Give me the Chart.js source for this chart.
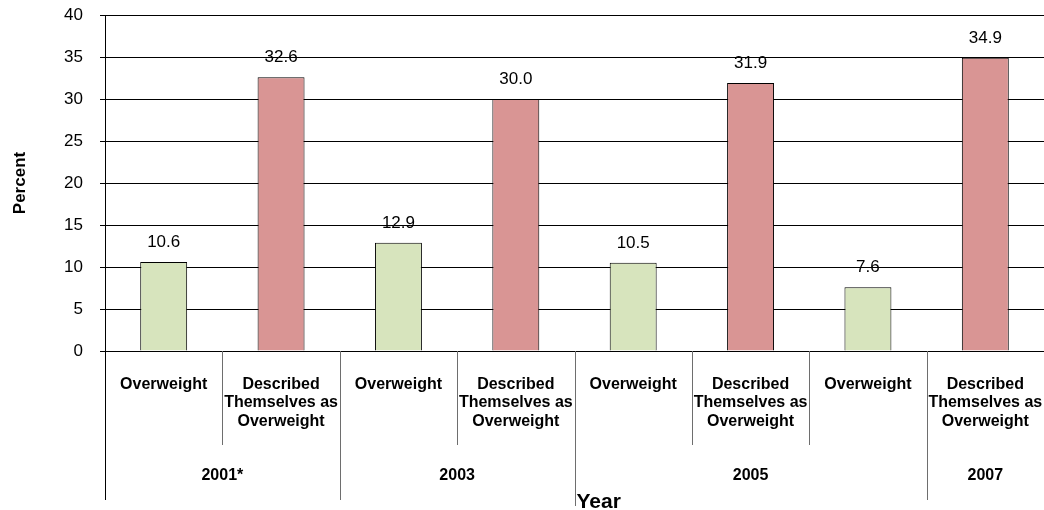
<!DOCTYPE html>
<html>
<head>
<meta charset="utf-8">
<script src="https://cdn.jsdelivr.net/npm/chart.js@4"></script>
<style>
  html, body { margin: 0; padding: 0; background: #fff; }
  .chart-wrapper { width: 1044px; height: 510px; position: relative; }
</style>
</head>
<body>
<div class="chart-wrapper"><canvas id="weightChart"></canvas></div>
<script>
// 数据
const years = ['2001*', '2003', '2005', '2007'];
const yearSpans = [2, 2, 3, 1];          // how many columns each year covers
const groupLabels = [
  'Overweight', ['Described', 'Themselves as', 'Overweight'],
  'Overweight', ['Described', 'Themselves as', 'Overweight'],
  'Overweight', ['Described', 'Themselves as', 'Overweight'],
  'Overweight', ['Described', 'Themselves as', 'Overweight']
];
const values = [10.6, 32.6, 12.9, 30.0, 10.5, 31.9, 7.6, 34.9];
const yTicks = [0, 5, 10, 15, 20, 25, 30, 35, 40];

const greenFill = '#d7e4bd';
const redFill = '#d99594';

Chart.defaults.font.family = 'Arial, "Liberation Sans", sans-serif';
Chart.defaults.color = '#000';

// 柱顶数值
const barValueLabels = {
  id: 'barValueLabels',
  afterDatasetsDraw(chart) {
    const ctx = chart.ctx;
    const meta = chart.getDatasetMeta(0);
    ctx.save();
    ctx.font = '17px Arial, "Liberation Sans", sans-serif';
    ctx.fillStyle = '#000';
    ctx.textAlign = 'center';
    ctx.textBaseline = 'alphabetic';
    meta.data.forEach((bar, i) => {
      ctx.fillText(values[i].toFixed(1), bar.x, bar.y - 15);
    });
    ctx.restore();
  }
};

// 年份行和分隔线
const yearRow = {
  id: 'yearRow',
  afterDraw(chart) {
    const ctx = chart.ctx;
    const x = chart.scales.x;
    const area = chart.chartArea;
    const step = x.getPixelForValue(1) - x.getPixelForValue(0);
    const edge = i => x.getPixelForValue(i) - step / 2;

    ctx.save();
    ctx.lineWidth = 1;

    // left axis runs down through the label rows
    ctx.strokeStyle = '#000';
    ctx.beginPath();
    ctx.moveTo(Math.round(area.left) + 0.5, area.bottom);
    ctx.lineTo(Math.round(area.left) + 0.5, 500);
    ctx.stroke();

    // boundaries between columns
    const yearEdges = [];
    let acc = 0;
    yearSpans.forEach(s => { acc += s; yearEdges.push(acc); });
    ctx.strokeStyle = '#6e6e6e';
    for (let i = 1; i < groupLabels.length; i++) {
      const px = Math.round(edge(i)) + 0.5;
      const isYear = yearEdges.includes(i);
      ctx.beginPath();
      ctx.moveTo(px, area.bottom);
      ctx.lineTo(px, isYear ? (i === 4 ? 506 : 500) : 445);
      ctx.stroke();
    }

    // year labels
    ctx.fillStyle = '#000';
    ctx.font = 'bold 16px Arial, "Liberation Sans", sans-serif';
    ctx.textAlign = 'center';
    ctx.textBaseline = 'middle';
    let start = 0;
    years.forEach((yr, k) => {
      const end = start + yearSpans[k];
      const cx = (edge(start) + edge(end)) / 2;
      ctx.fillText(yr, cx, 476);
      start = end;
    });

    // axis title
    ctx.font = 'bold 21px Arial, "Liberation Sans", sans-serif';
    ctx.textAlign = 'left';
    ctx.textBaseline = 'alphabetic';
    ctx.fillText('Year', edge(4) + 2, 508);
    ctx.restore();
  }
};

// 去掉刻度标签带来的额外留白
function noScalePadding(scale) {
  scale.paddingLeft = 0;
  scale.paddingRight = 0;
  scale.paddingTop = 0;
  scale.paddingBottom = 0;
}

new Chart(document.getElementById('weightChart'), {
  type: 'bar',
  data: {
    labels: groupLabels,
    datasets: [{
      data: values,
      backgroundColor: values.map((v, i) => i % 2 === 0 ? greenFill : redFill),
      borderColor: '#000',
      borderWidth: 1,
      barPercentage: 0.4,
      categoryPercentage: 1
    }]
  },
  options: {
    responsive: true,
    maintainAspectRatio: false,
    animation: false,
    layout: { padding: { top: 15, right: 0, bottom: 0, left: 0 } },
    plugins: {
      legend: { display: false },
      tooltip: { enabled: false }
    },
    scales: {
      x: {
        offset: true,
        afterFit: scale => { scale.height = 159; noScalePadding(scale); },
        grid: { display: false, drawTicks: false },
        border: { display: true, color: '#000', width: 1 },
        ticks: {
          maxRotation: 0,
          autoSkip: false,
          padding: 24,
          font: { size: 16, weight: 'bold', lineHeight: 1.17 }
        }
      },
      y: {
        min: 0,
        max: 40,
        afterFit: scale => { scale.width = 105; noScalePadding(scale); },
        afterBuildTicks: scale => { scale.ticks = yTicks.map(v => ({ value: v })); },
        grid: { color: '#000', tickLength: 5, drawTicks: true },
        border: { display: true, color: '#000', width: 1 },
        ticks: { padding: 17, font: { size: 17 } },
        title: {
          display: true,
          text: 'Percent',
          padding: { top: 10, bottom: 0 },
          font: { size: 17, weight: 'bold' }
        }
      }
    }
  },
  plugins: [barValueLabels, yearRow]
});
</script>
</body>
</html>
